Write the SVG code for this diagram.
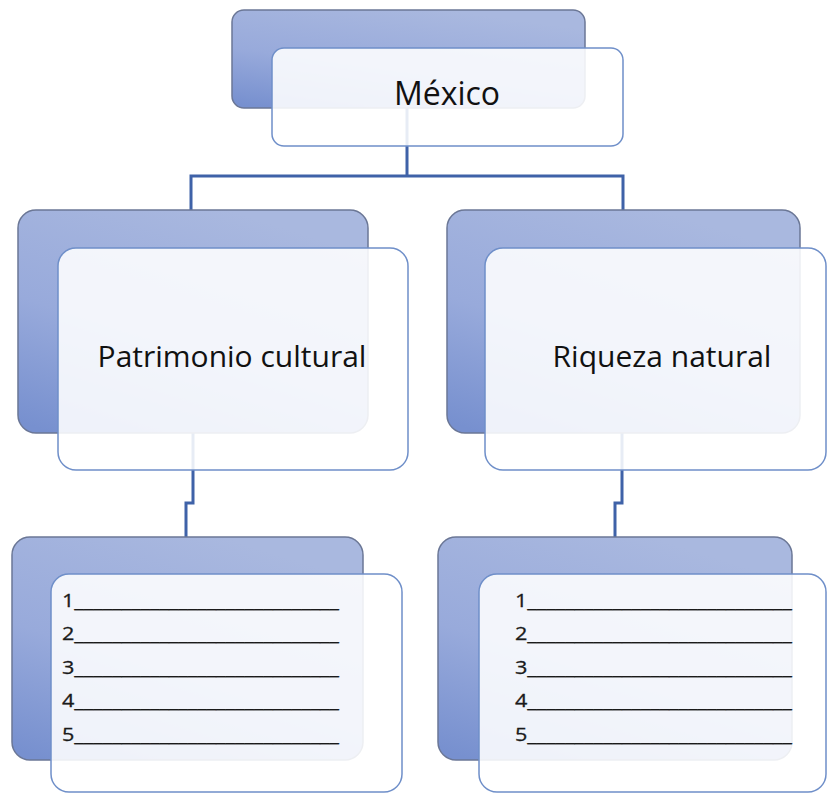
<svg xmlns="http://www.w3.org/2000/svg" width="827" height="794" viewBox="0 0 827 794">
<defs>
<linearGradient id="bg" x1="0.6" y1="0" x2="0.1" y2="1">
<stop offset="0" stop-color="#a9b8df"/>
<stop offset="0.55" stop-color="#98aadb"/>
<stop offset="1" stop-color="#7790cf"/>
</linearGradient>
<style>
.back{fill:url(#bg);stroke:#6b7796;stroke-width:1.5}
.front{fill:#ffffff;fill-opacity:0.88;stroke:#6f8fc9;stroke-width:1.5}
.conn{fill:none;stroke:#3f62a8;stroke-width:3}
.head{font-family:"Open Sans","Liberation Sans",sans-serif;fill:#111111;text-anchor:middle}
.list{font-family:"Open Sans","Liberation Sans",sans-serif;font-size:18px;fill:#1a1a1a;stroke:#1a1a1a;stroke-width:0.3}
</style>
</defs>
<rect width="827" height="794" fill="#ffffff"/>
<g id="connectors">
<path class="conn" d="M407 108 V176 M191 210 V176 H623 V210"/>
<path class="conn" d="M193 433 V503 H186 V537"/>
<path class="conn" d="M622 433 V503 H615 V537"/>
</g>
<g id="node-mexico">
<rect class="back" x="232" y="10" width="353" height="98" rx="12"/>
<rect class="front" x="272" y="48" width="351" height="98" rx="12"/>
<text class="head" x="447" y="105" font-size="32">México</text>
</g>
<g id="node-patrimonio">
<rect class="back" x="18" y="210" width="350" height="223" rx="18"/>
<rect class="front" x="58" y="248" width="350" height="222" rx="18"/>
<text class="head" x="232" y="367" font-size="30">Patrimonio cultural</text>
</g>
<g id="node-riqueza">
<rect class="back" x="447" y="210" width="353" height="223" rx="18"/>
<rect class="front" x="485" y="248" width="341" height="222" rx="18"/>
<text class="head" x="662" y="367" font-size="30">Riqueza natural</text>
</g>
<g id="node-lista-patrimonio">
<rect class="back" x="12" y="537" width="351" height="223" rx="18"/>
<rect class="front" x="51" y="574" width="351" height="218" rx="18"/>
<text class="list" x="62" y="607" textLength="277" lengthAdjust="spacingAndGlyphs">1____________________________</text>
<text class="list" x="62" y="640" textLength="277" lengthAdjust="spacingAndGlyphs">2____________________________</text>
<text class="list" x="62" y="674" textLength="277" lengthAdjust="spacingAndGlyphs">3____________________________</text>
<text class="list" x="62" y="707" textLength="277" lengthAdjust="spacingAndGlyphs">4____________________________</text>
<text class="list" x="62" y="741" textLength="277" lengthAdjust="spacingAndGlyphs">5____________________________</text>
</g>
<g id="node-lista-riqueza">
<rect class="back" x="438" y="537" width="354" height="223" rx="18"/>
<rect class="front" x="479" y="574" width="347" height="218" rx="18"/>
<text class="list" x="515" y="607" textLength="277" lengthAdjust="spacingAndGlyphs">1____________________________</text>
<text class="list" x="515" y="640" textLength="277" lengthAdjust="spacingAndGlyphs">2____________________________</text>
<text class="list" x="515" y="674" textLength="277" lengthAdjust="spacingAndGlyphs">3____________________________</text>
<text class="list" x="515" y="707" textLength="277" lengthAdjust="spacingAndGlyphs">4____________________________</text>
<text class="list" x="515" y="741" textLength="277" lengthAdjust="spacingAndGlyphs">5____________________________</text>
</g>
</svg>
